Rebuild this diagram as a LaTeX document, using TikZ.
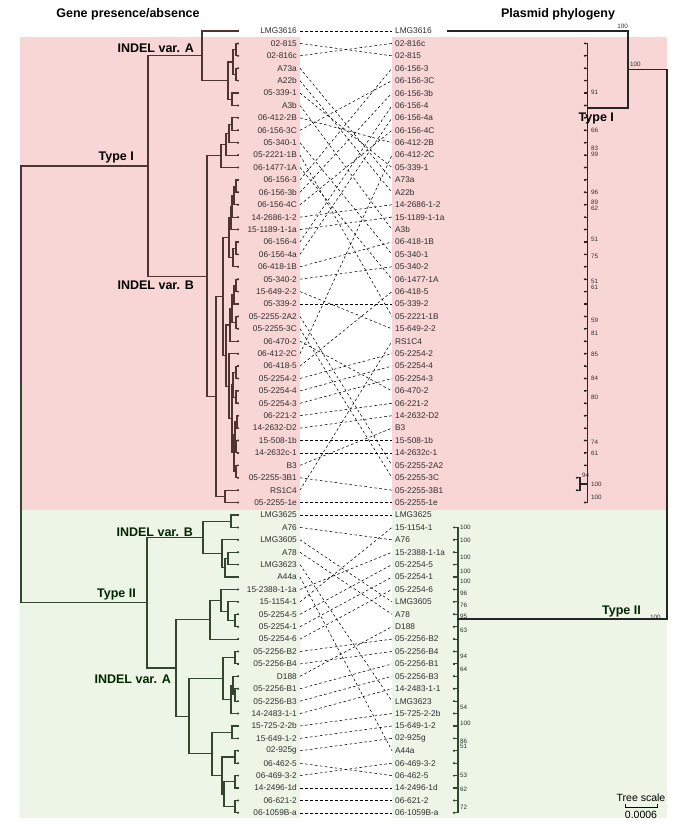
\documentclass[tikz,border=0pt]{standalone}
\usepackage{fontspec}
\setmainfont{Liberation Sans}
\usetikzlibrary{positioning, calc}
\definecolor{typeIbg}{HTML}{F9D6D6}
\definecolor{typeIIbg}{HTML}{EDF5E7}
\definecolor{typeIline}{HTML}{4F3434}
\definecolor{typeIIline}{HTML}{33472F}
\definecolor{labelgray}{HTML}{2E2E2E}
\tikzset{
  %tree branch style
  branch/.style={
    line width=1.1pt
    , line cap=rect
  },
  leaf/.style={
    inner sep=0pt
    , text=labelgray
    , font=\fontsize{8.3}{9}\selectfont
  },
  link/.style={
    line width=0.55pt
    , dash pattern=on 2.6pt off 2.4pt
  },
  cladelabel/.style={
    inner sep=0pt
    , font=\bfseries\fontsize{12.5}{14}\selectfont
  },
  support/.style={
    inner sep=0pt
    , text=labelgray
    , font=\fontsize{6.3}{7}\selectfont
  },
  tipdot/.style={fill, radius=1.1pt},
}

% one bracket of a tree: [style] name, x, upper child, lower child
\newcommand\clade[5][]{%
  \coordinate (#2-mid) at ($(#4)!.5!(#5)$);
  \coordinate (#2-x) at (#3,0);
  \coordinate (#2) at (#2-x |- #2-mid);
  \draw[branch,#1] (#4) -| (#2) |- (#5);
}

\begin{document}
\begin{tikzpicture}[x=1pt, y=-1pt, declare function={row(\i)=31+(\i-1)*12.41;}]
  \useasboundingbox (0,0) rectangle (685,826);

  % backgrounds
  \fill[typeIbg] (20,37) rectangle (300,510);
  \fill[typeIbg] (392,37) rectangle (667,510);
  \fill[typeIIbg] (20,510) rectangle (300,818);
  \fill[typeIIbg] (392,510) rectangle (667,818);

  \node[cladelabel] (title-l) at (128,14) {Gene presence/absence};
  \node[cladelabel] (title-r) at (558,14) {Plasmid phylogeny};

  % left leaves
  \foreach \n [count=\i] in {LMG3616, 02-815, 02-816c, A73a, A22b, 05-339-1, A3b,
    06-412-2B, 06-156-3C, 05-340-1, 05-2221-1B, 06-1477-1A, 06-156-3, 06-156-3b,
    06-156-4C, 14-2686-1-2, 15-1189-1-1a, 06-156-4, 06-156-4a, 06-418-1B, 05-340-2,
    15-649-2-2, 05-339-2, 05-2255-2A2, 05-2255-3C, 06-470-2, 06-412-2C, 06-418-5,
    05-2254-2, 05-2254-4, 05-2254-3, 06-221-2, 14-2632-D2, 15-508-1b, 14-2632c-1,
    B3, 05-2255-3B1, RS1C4, 05-2255-1e, LMG3625, A76, LMG3605, A78, LMG3623, A44a,
    15-2388-1-1a, 15-1154-1, 05-2254-5, 05-2254-1, 05-2254-6, 05-2256-B2,
    05-2256-B4, D188, 05-2256-B1, 05-2256-B3, 14-2483-1-1, 15-725-2-2b, 15-649-1-2,
    02-925g, 06-462-5, 06-469-3-2, 14-2496-1d, 06-621-2, 06-1059B-a} {
    \coordinate (lt\i) at (238,{row(\i)});
    \fill[tipdot] (lt\i) circle;
    \node[leaf, anchor=east] (l-\n) at (297,{row(\i)}) {\n};
  }

  % right leaves
  \foreach \n [count=\i] in {LMG3616, 02-816c, 02-815, 06-156-3, 06-156-3C,
    06-156-3b, 06-156-4, 06-156-4a, 06-156-4C, 06-412-2B, 06-412-2C, 05-339-1, A73a,
    A22b, 14-2686-1-2, 15-1189-1-1a, A3b, 06-418-1B, 05-340-1, 05-340-2, 06-1477-1A,
    06-418-5, 05-339-2, 05-2221-1B, 15-649-2-2, RS1C4, 05-2254-2, 05-2254-4,
    05-2254-3, 06-470-2, 06-221-2, 14-2632-D2, B3, 15-508-1b, 14-2632c-1,
    05-2255-2A2, 05-2255-3C, 05-2255-3B1, 05-2255-1e, LMG3625, 15-1154-1, A76,
    15-2388-1-1a, 05-2254-5, 05-2254-1, 05-2254-6, LMG3605, A78, D188, 05-2256-B2,
    05-2256-B4, 05-2256-B1, 05-2256-B3, 14-2483-1-1, LMG3623, 15-725-2-2b,
    15-649-1-2, 02-925g, A44a, 06-469-3-2, 06-462-5, 14-2496-1d, 06-621-2,
    06-1059B-a} {
    \node[leaf, anchor=west] (r-\n) at (395,{row(\i)}) {\n};
  }

  % dashed links between both lists
  \foreach \n in {LMG3616, 02-815, 02-816c, A73a, A22b, 05-339-1, A3b,
    06-412-2B, 06-156-3C, 05-340-1, 05-2221-1B, 06-1477-1A, 06-156-3, 06-156-3b,
    06-156-4C, 14-2686-1-2, 15-1189-1-1a, 06-156-4, 06-156-4a, 06-418-1B, 05-340-2,
    15-649-2-2, 05-339-2, 05-2255-2A2, 05-2255-3C, 06-470-2, 06-412-2C, 06-418-5,
    05-2254-2, 05-2254-4, 05-2254-3, 06-221-2, 14-2632-D2, 15-508-1b, 14-2632c-1,
    B3, 05-2255-3B1, RS1C4, 05-2255-1e, LMG3625, A76, LMG3605, A78, LMG3623, A44a,
    15-2388-1-1a, 15-1154-1, 05-2254-5, 05-2254-1, 05-2254-6, 05-2256-B2,
    05-2256-B4, D188, 05-2256-B1, 05-2256-B3, 14-2483-1-1, 15-725-2-2b, 15-649-1-2,
    02-925g, 06-462-5, 06-469-3-2, 14-2496-1d, 06-621-2, 06-1059B-a}
    \draw[link] ([xshift=3pt]l-\n.east) -- ([xshift=-3pt]r-\n.west);

  % gene presence/absence tree, type I
  \clade[typeIline]{aa1}{236}{lt2}{lt3}
  \clade[typeIline]{aa2}{236}{lt4}{lt5}
  \clade[typeIline]{aa}{233}{aa1}{aa2}
  \clade[typeIline]{ab}{232}{lt6}{lt7}
  \clade[typeIline]{asub}{228}{aa}{ab}
  \clade[typeIline]{varIA}{202}{lt1}{asub}
  \clade[typeIline]{a1}{232}{lt8}{lt9}
  \clade[typeIline]{a2}{229}{a1}{lt10}
  \clade[typeIline]{a3}{226}{a2}{lt11}
  \clade[typeIline]{a4}{221}{a3}{lt12}
  \clade[typeIline]{p1}{236}{lt13}{lt14}
  \clade[typeIline]{p2}{234}{p1}{lt15}
  \clade[typeIline]{p3}{232}{p2}{lt16}
  \clade[typeIline]{p4}{231}{p3}{lt17}
  \clade[typeIline]{p5}{236}{lt18}{lt19}
  \clade[typeIline]{p6}{233}{p5}{lt20}
  \clade[typeIline]{pp}{229}{p4}{p6}
  \clade[typeIline]{q1a}{236}{lt21}{lt22}
  \clade[typeIline]{q1b}{234}{q1a}{lt23}
  \clade[typeIline]{q1c}{236}{lt24}{lt25}
  \clade[typeIline]{q1d}{232}{q1b}{q1c}
  \clade[typeIline]{q1}{230}{q1d}{lt26}
  \clade[typeIline]{q2a}{236}{lt28}{lt29}
  \clade[typeIline]{q2b}{236}{lt30}{lt31}
  \clade[typeIline]{q2c}{233}{q2a}{q2b}
  \clade[typeIline]{q2d}{237}{lt32}{lt33}
  \clade[typeIline]{q2e}{236}{lt34}{lt35}
  \clade[typeIline]{q2f}{235}{q2d}{q2e}
  \clade[typeIline]{q2g}{236}{lt36}{lt37}
  \clade[typeIline]{q2h}{234}{q2f}{q2g}
  \clade[typeIline]{q2i}{232}{q2c}{q2h}
  \clade[typeIline]{q2}{229}{lt27}{q2i}
  \clade[typeIline]{qq}{226}{q1}{q2}
  \clade[typeIline]{mm}{223}{pp}{qq}
  \clade[typeIline]{nn}{225}{lt38}{lt39}
  \clade[typeIline]{ll}{216}{mm}{nn}
  \clade[typeIline]{varIB}{207}{a4}{ll}
  \clade[typeIline]{typeI}{148}{varIA}{varIB}

  % gene presence/absence tree, type II
  \clade[typeIIline]{b1}{231}{lt40}{lt41}
  \clade[typeIIline]{b2}{228}{lt43}{lt44}
  \clade[typeIIline]{b3}{225}{b2}{lt45}
  \clade[typeIIline]{b4}{222}{lt42}{b3}
  \clade[typeIIline]{varIIB}{203}{b1}{b4}
  \clade[typeIIline]{c1}{235}{lt48}{lt49}
  \clade[typeIIline]{c2}{228}{lt47}{c1}
  \clade[typeIIline]{c3}{221}{lt46}{c2}
  \clade[typeIIline]{c4}{210}{c3}{lt50}
  \clade[typeIIline]{d1}{235}{lt51}{lt52}
  \clade[typeIIline]{d2}{235}{lt54}{lt55}
  \clade[typeIIline]{d3}{233}{lt53}{d2}
  \clade[typeIIline]{d4}{231}{d3}{lt56}
  \clade[typeIIline]{d5}{223}{d1}{d4}
  \clade[typeIIline]{e0}{235}{lt59}{lt60}
  \clade[typeIIline]{e1}{235}{lt61}{lt62}
  \clade[typeIIline]{e2}{235}{lt63}{lt64}
  \clade[typeIIline]{e3}{224}{e1}{e2}
  \clade[typeIIline]{e4}{222}{e0}{e3}
  \clade[typeIIline]{e5}{232}{lt57}{lt58}
  \clade[typeIIline]{e6}{212}{e5}{e4}
  \clade[typeIIline]{ff}{189}{d5}{e6}
  \clade[typeIIline]{varIIA}{176}{c4}{ff}
  \clade[typeIIline]{typeII}{147}{varIIB}{varIIA}
  \clade[typeIline]{root}{21}{typeI}{typeII}
  \draw[branch, typeIIline] (root) |- (typeII);

  \node[cladelabel, anchor=south east] (lab-IA) at ([xshift=-8pt,yshift=3pt]varIA) {INDEL var. A};
  \node[cladelabel, anchor=north east] (lab-IB) at ([xshift=-13pt,yshift=-5pt]varIB) {INDEL var. B};
  \node[cladelabel, anchor=south east] (lab-I) at ([xshift=-14pt,yshift=3pt]typeI) {Type I};
  \node[cladelabel, anchor=south east, text=black!85!green] (lab-IIB) at ([xshift=-10pt,yshift=1pt]varIIB) {INDEL var. B};
  \node[cladelabel, anchor=south east, text=black!85!green] (lab-II) at ([xshift=-11pt,yshift=2.5pt]typeII) {Type II};
  \node[cladelabel, anchor=north east, text=black!85!green] (lab-IIA) at ([xshift=-5pt,yshift=-7pt]varIIA) {INDEL var. A};

  % plasmid phylogeny
  \coordinate (pt1) at (448,{row(1)});
  \fill[tipdot] (pt1) circle;
  \foreach \i in {2,...,36,39} {
    \coordinate (pt\i) at (585,{row(\i)});
    \fill[tipdot] (pt\i) circle;
    \draw[branch, black!85] (pt\i) -- ++(2.5,0);
  }
  \foreach \i in {37,38} {
    \coordinate (pt\i) at (577,{row(\i)});
    \fill[tipdot] (pt\i) circle;
  }
  \clade[black!85]{pb94}{580}{pt37}{pt38}
  \draw[branch, black!85] (pb94) -- ++(7.5,0);
  \draw[branch, black!85] ([xshift=2.5pt]pt2) -- ([xshift=2.5pt]pt39);
  \foreach \i in {41,...,64} {
    \coordinate (pt\i) at (454,{row(\i)});
    \fill[tipdot] (pt\i) circle;
    \draw[branch, typeIIline] (pt\i) -- ++(4,0);
  }
  \draw[branch, typeIIline] ([xshift=4pt]pt41) -- ([xshift=4pt]pt64);
  \coordinate (ptI) at (587.5,108);
  \coordinate (ptII) at (458,619);
  \clade[black!85]{pn1}{628}{pt1}{ptI}
  \clade[black!85]{proot}{667}{pn1}{ptII}

  \node[cladelabel, anchor=north west] (lab-pI) at ([xshift=-9pt,yshift=-5pt]ptI) {Type I};
  \node[cladelabel, anchor=south east, text=black!85!green] (lab-pII) at (641,617) {Type II};
  \node[support, anchor=west] (bs-II) at (650,617) {100};
  \node[support, anchor=south east] (bs-top) at (628,29) {100};
  \node[support, anchor=south west] (bs-n1) at (630,67) {100};

  % branch support values
  \foreach \v/\y [count=\k] in {91/92, 66/130, 83/148, 99/154, 96/192, 89/202, 62/208,
    51/239, 75/256, 51/281, 61/287, 59/320, 81/333, 85/354, 84/378, 80/397, 74/442,
    61/453, 100/484, 100/497}
    \node[support, anchor=west] (bsI-\k) at (591,\y) {\v};
  \node[support, anchor=west] (bsI-94) at (582,475) {94};
  \foreach \v/\y [count=\k] in {100/527, 100/540, 100/557, 100/571, 100/581, 96/593,
    76/605, 95/616, 63/630, 94/656, 64/669, 54/707, 100/723, 86/741, 51/746, 53/775,
    62/789, 72/807}
    \node[support, anchor=west] (bsII-\k) at (460,\y) {\v};

  % scale
  \node[font=\fontsize{10.5}{12}\selectfont, inner sep=0pt] (scale-t) at (641,798) {Tree scale};
  \node[font=\fontsize{10.5}{12}\selectfont, inner sep=0pt] (scale-v) at (641,815) {0.0006};
  \draw[line width=0.8pt] (625,804) -- (625,807) -- (657,807) -- (657,804);
\end{tikzpicture}
\end{document}
